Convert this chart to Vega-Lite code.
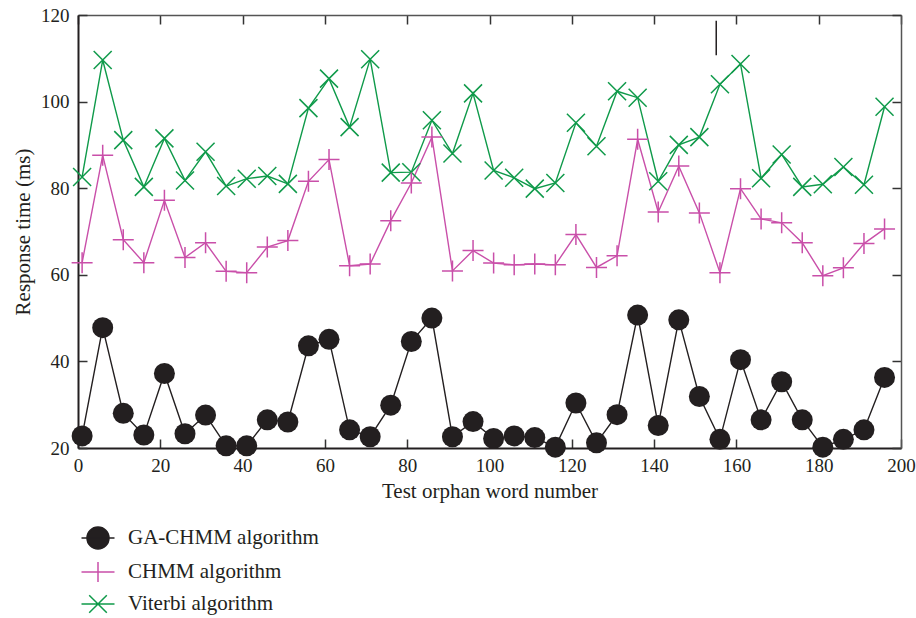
{
  "$schema": "https://vega.github.io/schema/vega-lite/v6.json",
  "autosize": {"type": "none"},
  "padding": {"left": 78, "top": 15, "right": 15, "bottom": 170},
  "width": 823,
  "height": 433,
  "background": "white",
  "config": {
    "view": {"stroke": null},
    "axis": {
      "labelFont": "Liberation Serif", "labelFontSize": 19, "labelColor": "#231f20",
      "titleFont": "Liberation Serif", "titleFontSize": 21, "titleFontWeight": "normal", "titleColor": "#231f20",
      "tickSize": -9, "tickColor": "#333333", "tickWidth": 1.5,
      "domainColor": "#231f20", "grid": false, "labelFlush": false, "labelOverlap": false
    }
  },
  "datasets": {
    "main": [
      {"x": 1, "series": "GA-CHMM algorithm", "y": 22.8},
      {"x": 6, "series": "GA-CHMM algorithm", "y": 47.8},
      {"x": 11, "series": "GA-CHMM algorithm", "y": 28.0},
      {"x": 16, "series": "GA-CHMM algorithm", "y": 23.0},
      {"x": 21, "series": "GA-CHMM algorithm", "y": 37.2},
      {"x": 26, "series": "GA-CHMM algorithm", "y": 23.3},
      {"x": 31, "series": "GA-CHMM algorithm", "y": 27.6},
      {"x": 36, "series": "GA-CHMM algorithm", "y": 20.5},
      {"x": 41, "series": "GA-CHMM algorithm", "y": 20.5},
      {"x": 46, "series": "GA-CHMM algorithm", "y": 26.5},
      {"x": 51, "series": "GA-CHMM algorithm", "y": 26.0},
      {"x": 56, "series": "GA-CHMM algorithm", "y": 43.6},
      {"x": 61, "series": "GA-CHMM algorithm", "y": 45.1},
      {"x": 66, "series": "GA-CHMM algorithm", "y": 24.2},
      {"x": 71, "series": "GA-CHMM algorithm", "y": 22.6},
      {"x": 76, "series": "GA-CHMM algorithm", "y": 29.9},
      {"x": 81, "series": "GA-CHMM algorithm", "y": 44.6},
      {"x": 86, "series": "GA-CHMM algorithm", "y": 50.0},
      {"x": 91, "series": "GA-CHMM algorithm", "y": 22.6},
      {"x": 96, "series": "GA-CHMM algorithm", "y": 26.1},
      {"x": 101, "series": "GA-CHMM algorithm", "y": 22.2},
      {"x": 106, "series": "GA-CHMM algorithm", "y": 22.8},
      {"x": 111, "series": "GA-CHMM algorithm", "y": 22.4},
      {"x": 116, "series": "GA-CHMM algorithm", "y": 20.2},
      {"x": 121, "series": "GA-CHMM algorithm", "y": 30.4},
      {"x": 126, "series": "GA-CHMM algorithm", "y": 21.2},
      {"x": 131, "series": "GA-CHMM algorithm", "y": 27.7},
      {"x": 136, "series": "GA-CHMM algorithm", "y": 50.7},
      {"x": 141, "series": "GA-CHMM algorithm", "y": 25.2},
      {"x": 146, "series": "GA-CHMM algorithm", "y": 49.6},
      {"x": 151, "series": "GA-CHMM algorithm", "y": 31.9},
      {"x": 156, "series": "GA-CHMM algorithm", "y": 22.0},
      {"x": 161, "series": "GA-CHMM algorithm", "y": 40.4},
      {"x": 166, "series": "GA-CHMM algorithm", "y": 26.5},
      {"x": 171, "series": "GA-CHMM algorithm", "y": 35.3},
      {"x": 176, "series": "GA-CHMM algorithm", "y": 26.5},
      {"x": 181, "series": "GA-CHMM algorithm", "y": 20.2},
      {"x": 186, "series": "GA-CHMM algorithm", "y": 22.0},
      {"x": 191, "series": "GA-CHMM algorithm", "y": 24.2},
      {"x": 196, "series": "GA-CHMM algorithm", "y": 36.3},
      {"x": 1, "series": "CHMM algorithm", "y": 62.8},
      {"x": 6, "series": "CHMM algorithm", "y": 87.6},
      {"x": 11, "series": "CHMM algorithm", "y": 68.1},
      {"x": 16, "series": "CHMM algorithm", "y": 62.8},
      {"x": 21, "series": "CHMM algorithm", "y": 77.2},
      {"x": 26, "series": "CHMM algorithm", "y": 64.0},
      {"x": 31, "series": "CHMM algorithm", "y": 67.4},
      {"x": 36, "series": "CHMM algorithm", "y": 60.8},
      {"x": 41, "series": "CHMM algorithm", "y": 60.5},
      {"x": 46, "series": "CHMM algorithm", "y": 66.4},
      {"x": 51, "series": "CHMM algorithm", "y": 67.9},
      {"x": 56, "series": "CHMM algorithm", "y": 81.6},
      {"x": 61, "series": "CHMM algorithm", "y": 86.6},
      {"x": 66, "series": "CHMM algorithm", "y": 62.1},
      {"x": 71, "series": "CHMM algorithm", "y": 62.5},
      {"x": 76, "series": "CHMM algorithm", "y": 72.5},
      {"x": 81, "series": "CHMM algorithm", "y": 81.2},
      {"x": 86, "series": "CHMM algorithm", "y": 91.8},
      {"x": 91, "series": "CHMM algorithm", "y": 60.9},
      {"x": 96, "series": "CHMM algorithm", "y": 65.6},
      {"x": 101, "series": "CHMM algorithm", "y": 62.7},
      {"x": 106, "series": "CHMM algorithm", "y": 62.3},
      {"x": 111, "series": "CHMM algorithm", "y": 62.5},
      {"x": 116, "series": "CHMM algorithm", "y": 62.3},
      {"x": 121, "series": "CHMM algorithm", "y": 69.3},
      {"x": 126, "series": "CHMM algorithm", "y": 61.7},
      {"x": 131, "series": "CHMM algorithm", "y": 64.4},
      {"x": 136, "series": "CHMM algorithm", "y": 91.3},
      {"x": 141, "series": "CHMM algorithm", "y": 74.5},
      {"x": 146, "series": "CHMM algorithm", "y": 85.1},
      {"x": 151, "series": "CHMM algorithm", "y": 74.3},
      {"x": 156, "series": "CHMM algorithm", "y": 60.5},
      {"x": 161, "series": "CHMM algorithm", "y": 79.9},
      {"x": 166, "series": "CHMM algorithm", "y": 72.9},
      {"x": 171, "series": "CHMM algorithm", "y": 72.0},
      {"x": 176, "series": "CHMM algorithm", "y": 67.4},
      {"x": 181, "series": "CHMM algorithm", "y": 59.8},
      {"x": 186, "series": "CHMM algorithm", "y": 61.6},
      {"x": 191, "series": "CHMM algorithm", "y": 67.2},
      {"x": 196, "series": "CHMM algorithm", "y": 70.6},
      {"x": 1, "series": "Viterbi algorithm", "y": 82.6},
      {"x": 6, "series": "Viterbi algorithm", "y": 109.6},
      {"x": 11, "series": "Viterbi algorithm", "y": 91.1},
      {"x": 16, "series": "Viterbi algorithm", "y": 80.3},
      {"x": 21, "series": "Viterbi algorithm", "y": 91.5},
      {"x": 26, "series": "Viterbi algorithm", "y": 81.8},
      {"x": 31, "series": "Viterbi algorithm", "y": 88.4},
      {"x": 36, "series": "Viterbi algorithm", "y": 80.5},
      {"x": 41, "series": "Viterbi algorithm", "y": 82.2},
      {"x": 46, "series": "Viterbi algorithm", "y": 82.8},
      {"x": 51, "series": "Viterbi algorithm", "y": 81.0},
      {"x": 56, "series": "Viterbi algorithm", "y": 98.5},
      {"x": 61, "series": "Viterbi algorithm", "y": 105.3},
      {"x": 66, "series": "Viterbi algorithm", "y": 94.1},
      {"x": 71, "series": "Viterbi algorithm", "y": 109.8},
      {"x": 76, "series": "Viterbi algorithm", "y": 83.6},
      {"x": 81, "series": "Viterbi algorithm", "y": 83.7},
      {"x": 86, "series": "Viterbi algorithm", "y": 95.7},
      {"x": 91, "series": "Viterbi algorithm", "y": 88.0},
      {"x": 96, "series": "Viterbi algorithm", "y": 101.9},
      {"x": 101, "series": "Viterbi algorithm", "y": 84.1},
      {"x": 106, "series": "Viterbi algorithm", "y": 82.4},
      {"x": 111, "series": "Viterbi algorithm", "y": 79.9},
      {"x": 116, "series": "Viterbi algorithm", "y": 81.2},
      {"x": 121, "series": "Viterbi algorithm", "y": 95.1},
      {"x": 126, "series": "Viterbi algorithm", "y": 89.7},
      {"x": 131, "series": "Viterbi algorithm", "y": 102.4},
      {"x": 136, "series": "Viterbi algorithm", "y": 100.9},
      {"x": 141, "series": "Viterbi algorithm", "y": 81.6},
      {"x": 146, "series": "Viterbi algorithm", "y": 90.0},
      {"x": 151, "series": "Viterbi algorithm", "y": 91.8},
      {"x": 156, "series": "Viterbi algorithm", "y": 104.0},
      {"x": 161, "series": "Viterbi algorithm", "y": 108.7},
      {"x": 166, "series": "Viterbi algorithm", "y": 82.3},
      {"x": 171, "series": "Viterbi algorithm", "y": 87.8},
      {"x": 176, "series": "Viterbi algorithm", "y": 80.3},
      {"x": 181, "series": "Viterbi algorithm", "y": 80.9},
      {"x": 186, "series": "Viterbi algorithm", "y": 84.9},
      {"x": 191, "series": "Viterbi algorithm", "y": 80.8},
      {"x": 196, "series": "Viterbi algorithm", "y": 98.8}
    ],
    "stray": [
      {"x": 155.1, "y": 110.7, "y2": 118.7}
    ]
  },
  "layer": [
    {
      "data": {"name": "main"},
      "mark": {"type": "line", "strokeWidth": 1.4},
      "encoding": {
        "x": {"field": "x", "type": "quantitative", "scale": {"domain": [0, 200], "nice": false},
              "axis": {"orient": "bottom", "values": [0, 20, 40, 60, 80, 100, 120, 140, 160, 180, 200], "labelPadding": 17, "title": "Test orphan word number", "titlePadding": 5, "domainWidth": 2}},
        "y": {"field": "y", "type": "quantitative", "scale": {"domain": [20, 120], "nice": false},
              "axis": {"orient": "left", "values": [20, 40, 60, 80, 100, 120], "labelPadding": 18, "title": "Response time (ms)", "titlePadding": 7, "domainWidth": 2}},
        "color": {"field": "series", "type": "nominal", "legend": null,
                  "scale": {"domain": ["Viterbi algorithm", "CHMM algorithm", "GA-CHMM algorithm"], "range": ["#0f9a4a", "#c94fa9", "#231f20"]}},
        "detail": {"field": "series"}
      }
    },
    {
      "data": {"name": "main"},
      "transform": [{"filter": "datum.series === 'Viterbi algorithm'"}],
      "mark": {"type": "point", "shape": "M-1,-1L1,1M-1,1L1,-1", "filled": false, "stroke": "#0f9a4a", "strokeWidth": 1.5, "size": 324, "opacity": 1},
      "encoding": {
        "x": {"field": "x", "type": "quantitative", "axis": {"orient": "top", "labels": false, "title": null, "values": [0, 20, 40, 60, 80, 100, 120, 140, 160, 180, 200], "domainWidth": 1.5, "domainColor": "#555555"}},
        "y": {"field": "y", "type": "quantitative", "axis": {"orient": "right", "labels": false, "title": null, "values": [20, 40, 60, 80, 100, 120], "domainWidth": 1.5, "domainColor": "#555555"}}
      }
    },
    {
      "data": {"name": "main"},
      "transform": [{"filter": "datum.series === 'CHMM algorithm'"}],
      "mark": {"type": "point", "shape": "M-1,0H1M0,-1V1", "filled": false, "stroke": "#c94fa9", "strokeWidth": 1.5, "size": 441, "opacity": 1},
      "encoding": {
        "x": {"field": "x", "type": "quantitative", "axis": null},
        "y": {"field": "y", "type": "quantitative", "axis": null}
      }
    },
    {
      "data": {"name": "main"},
      "transform": [{"filter": "datum.series === 'GA-CHMM algorithm'"}],
      "mark": {"type": "point", "shape": "circle", "filled": true, "color": "#231f20", "size": 441, "opacity": 1},
      "encoding": {
        "x": {"field": "x", "type": "quantitative", "axis": null},
        "y": {"field": "y", "type": "quantitative", "axis": null}
      }
    },
    {
      "data": {"name": "main"},
      "transform": [{"filter": "datum.x < 0"}],
      "mark": {"type": "point", "filled": true, "size": 484, "strokeWidth": 1.5},
      "encoding": {
        "x": {"field": "x", "type": "quantitative", "axis": null},
        "y": {"field": "y", "type": "quantitative", "axis": null},
        "shape": {"field": "series", "type": "nominal",
                  "scale": {"domain": ["GA-CHMM algorithm", "CHMM algorithm", "Viterbi algorithm"],
                            "range": ["M-1.5,0H1.5M-1,0A1,1,0,1,0,1,0A1,1,0,1,0,-1,0Z", "M-1.5,0H1.5M0,-0.9V0.9", "M-1.5,0H1.5M-0.8,-0.8L0.8,0.8M-0.8,0.8L0.8,-0.8"]},
                  "legend": {"orient": "none", "legendX": 8, "legendY": 511, "title": null, "direction": "vertical",
                             "symbolSize": 484, "symbolStrokeWidth": 1.5, "symbolOpacity": 1, "labelFont": "Liberation Serif", "labelFontSize": 21,
                             "labelColor": "#231f20", "labelOffset": 18, "rowPadding": 7, "labelLimit": 400}},
        "fill": {"field": "series", "type": "nominal",
                 "scale": {"domain": ["GA-CHMM algorithm", "CHMM algorithm", "Viterbi algorithm"], "range": ["#231f20", "transparent", "transparent"]},
                 "legend": {"orient": "none", "legendX": 8, "legendY": 511, "title": null, "direction": "vertical",
                             "symbolSize": 484, "symbolStrokeWidth": 1.5, "symbolOpacity": 1, "labelFont": "Liberation Serif", "labelFontSize": 21,
                             "labelColor": "#231f20", "labelOffset": 18, "rowPadding": 7, "labelLimit": 400}},
        "stroke": {"field": "series", "type": "nominal",
                   "scale": {"domain": ["GA-CHMM algorithm", "CHMM algorithm", "Viterbi algorithm"], "range": ["#231f20", "#c94fa9", "#0f9a4a"]},
                   "legend": {"orient": "none", "legendX": 8, "legendY": 511, "title": null, "direction": "vertical",
                             "symbolSize": 484, "symbolStrokeWidth": 1.5, "symbolOpacity": 1, "labelFont": "Liberation Serif", "labelFontSize": 21,
                             "labelColor": "#231f20", "labelOffset": 18, "rowPadding": 7, "labelLimit": 400}}
      }
    },
    {
      "data": {"name": "stray"},
      "mark": {"type": "rule", "color": "#231f20", "strokeWidth": 1.5},
      "encoding": {
        "x": {"field": "x", "type": "quantitative", "axis": null},
        "y": {"field": "y", "type": "quantitative", "axis": null},
        "y2": {"field": "y2"}
      }
    }
  ]
}
